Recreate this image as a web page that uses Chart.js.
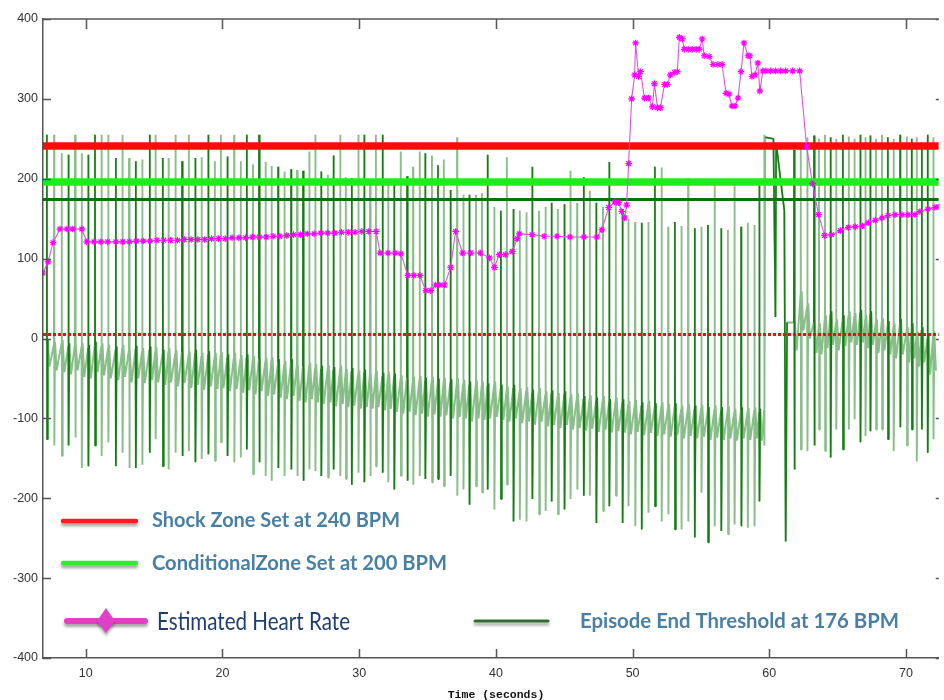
<!DOCTYPE html>
<html>
<head>
<meta charset="utf-8">
<title>Estimated heart rate and zones</title>
<script src="https://cdn.jsdelivr.net/npm/chart.js@4.4.1/dist/chart.umd.min.js"></script>
<style>
  html, body { margin: 0; padding: 0; background: #fff; }
  canvas { display: block; }
</style>
</head>
<body>
<canvas id="ecg" width="944" height="700"></canvas>
<script>
// axes
const xRange = [6.87, 72.4];
const yRange = [-400, 400];
const xTicks = [10, 20, 30, 40, 50, 60, 70];
const yTicks = [-400, -300, -200, -100, 0, 100, 200, 300, 400];

// threshold lines as drawn
const shockLevel = 241;
const conditionalLevel = 196;
const episodeEndLevel = 174;
const zeroLevel = 5;

// estimated heart rate (BPM)
const hrTimes = [
  6.87, 7.24, 7.60, 8.11, 8.62, 9.05, 9.71, 10.07, 10.6, 11.1,
  11.6, 12.2, 12.7, 13.2, 13.7, 14.2, 14.7, 15.2, 15.7, 16.2,
  16.7, 17.2, 17.7, 18.2, 18.7, 19.2, 19.7, 20.2, 20.7, 21.2,
  21.7, 22.2, 22.7, 23.2, 23.7, 24.2, 24.7, 25.2, 25.7, 26.2,
  26.7, 27.2, 27.7, 28.2, 28.7, 29.2, 29.7, 30.2, 30.7, 31.24,
  31.53, 32.1, 32.62, 33.05, 33.56, 34.0, 34.44, 34.87, 35.24, 35.6,
  35.9, 36.25, 36.69, 37.05, 37.56, 38.15, 38.87, 39.53, 39.89, 40.25,
  40.69, 41.2, 41.56, 41.71, 42.65, 43.53, 44.47, 45.42, 46.44, 47.38,
  47.75, 48.25, 48.69, 48.98, 49.2, 49.42, 49.56, 49.71, 49.93, 50.15,
  50.22, 50.44, 50.58, 50.87, 51.16, 51.45, 51.6, 51.82, 52.04, 52.33,
  52.55, 52.76, 53.05, 53.27, 53.42, 53.64, 53.78, 54.07, 54.36, 54.65,
  54.87, 55.09, 55.24, 55.6, 55.89, 56.25, 56.55, 56.84, 57.05, 57.27,
  57.49, 57.71, 57.93, 58.15, 58.44, 58.58, 58.73, 58.95, 59.16, 59.31,
  59.53, 59.75, 60.11, 60.47, 60.84, 61.2, 61.71, 62.22, 62.73, 63.16,
  63.6, 64.04, 64.55, 65.2, 65.78, 66.29, 66.8, 67.24, 67.75, 68.25,
  68.69, 69.2, 69.71, 70.15, 70.65, 71.02, 71.6, 72.11, 72.4
];
const hrValues = [
  82, 96, 120, 137, 137, 137, 137, 121, 121, 121,
  121, 121, 121, 121, 122, 122, 122, 123, 123, 123,
  123, 124, 124, 124, 124, 125, 125, 125, 126, 126,
  126, 127, 127, 127, 128, 128, 129, 130, 130, 131,
  131, 132, 132, 132, 133, 133, 133, 134, 134, 134,
  107, 107, 107, 106, 79, 79, 79, 60, 60, 67,
  67, 67, 89, 134, 107, 107, 107, 101, 89, 105,
  105, 109, 125, 131, 130, 128, 128, 127, 127, 127,
  136, 164, 171, 170, 159, 151, 167, 219, 300, 330,
  370, 328, 334, 301, 301, 290, 319, 289, 289, 318,
  318, 330, 333, 334, 377, 375, 362, 362, 362, 362,
  362, 375, 354, 353, 343, 343, 343, 307, 306, 291,
  291, 301, 334, 370, 354, 354, 328, 330, 345, 310,
  335, 335, 335, 335, 335, 335, 335, 335, 240, 194,
  155, 129, 130, 135, 139, 140, 141, 145, 148, 151,
  154, 155, 155, 155, 155, 159, 162, 164, 165
];

// ECG trace, one entry per beat
const beatTimes = [
  7.14, 7.67, 8.23, 8.72, 9.20, 9.69, 10.17, 10.66, 11.14, 11.63,
  12.18, 12.67, 13.15, 13.64, 14.12, 14.66, 15.09, 15.62, 16.04, 16.55,
  17.03, 17.52, 18.00, 18.46, 18.95, 19.43, 19.87, 20.35, 20.84, 21.32,
  21.76, 22.22, 22.66, 23.14, 23.58, 24.06, 24.52, 25.01, 25.44, 25.88,
  26.34, 26.78, 27.21, 27.70, 28.11, 28.60, 29.01, 29.44, 29.93, 30.36,
  30.78, 31.21, 31.70, 32.11, 32.55, 33.03, 33.49, 33.93, 34.41, 34.82,
  35.31, 35.75, 36.18, 36.67, 37.15, 37.61, 38.05, 38.53, 38.97,
  39.38, 39.87, 40.35, 40.79, 41.27, 41.73, 42.22, 42.65, 43.14, 43.62,
  44.06, 44.52, 45.00, 45.44, 45.93, 46.41, 46.85, 47.33, 47.82, 48.28,
  48.76, 49.25, 49.68, 50.17, 50.65, 51.14, 51.62, 52.11, 52.59, 53.08,
  53.56, 54.05, 54.53, 55.02, 55.50, 55.99, 56.47, 56.96, 57.44, 57.93,
  58.41, 58.90, 59.26, 59.62,
  61.80, 62.29, 62.77, 63.26, 63.62, 64.06, 64.47, 64.88, 65.37, 65.80,
  66.22, 66.65, 67.02, 67.38, 67.79, 68.23, 68.66, 69.08, 69.56, 70.05,
  70.41, 70.77, 71.14, 71.57, 71.99
];
const beatTops = [
  255, 255, 232, 230, 255, 232, 230, 255, 255, 255,
  226, 255, 226, 222, 224, 255, 255, 226, 226, 255,
  222, 255, 226, 227, 255, 222, 255, 228, 255, 222,
  255, 218, 255, 221, 216, 215, 209, 212, 211, 210,
  234, 255, 209, 205, 229, 255, 202, 201, 255, 255,
  199, 255, 255, 195, 193, 234, 203, 215, 234, 232,
  229, 217, 224, 186, 252, 180, 180, 180, 182,
  230, 165, 160, 227, 162, 160, 158, 215, 160, 165,
  170, 162, 168, 210, 170, 202, 185, 170, 165, 221,
  168, 162, 150, 146, 145, 146, 215, 214, 140, 146,
  141, 201, 138, 140, 142, 192, 138, 136, 192, 140,
  145, 142, 192, 255,
  236, 245, 252, 254, 250, 255, 252, 250, 255, 253,
  250, 255, 252, 254, 250, 255, 252, 250, 255, 253,
  250, 252, 245, 255, 252
];
const beatBottoms = [
  -126, -134, -147, -134, -124, -162, -160, -134, -147, -130,
  -160, -143, -162, -162, -158, -143, -126, -160, -164, -143,
  -147, -141, -155, -151, -145, -153, -130, -147, -155, -149,
  -139, -170, -155, -172, -178, -162, -172, -164, -172, -178,
  -164, -166, -172, -174, -164, -172, -176, -183, -168, -180,
  -172, -160, -168, -180, -189, -172, -178, -183, -172, -176,
  -180, -176, -185, -172, -197, -189, -208, -185, -193,
  -189, -214, -201, -183, -229, -227, -229, -201, -220, -216,
  -204, -220, -214, -201, -189, -197, -197, -231, -216, -210,
  -197, -231, -210, -235, -239, -218, -210, -229, -220, -239,
  -239, -229, -249, -193, -255, -235, -241, -245, -233, -235,
  -237, -235, -204, -134,
  -164, -139, -141, -134, -114, -141, -149, -114, -139, -114,
  -101, -130, -122, -116, -114, -114, -126, -141, -111, -134,
  -114, -154, -114, -143, -126
];
const beatBases = [
  -5, -8, -6, -10, -8, -10, -12, -8, -10, -12,
  -14, -12, -15, -13, -16, -14, -15, -18, -16, -18,
  -17, -20, -18, -22, -20, -22, -21, -24, -22, -25,
  -24, -26, -25, -28, -27, -30, -32, -30, -33, -35,
  -34, -36, -38, -37, -40, -38, -42, -41, -44, -43,
  -45, -44, -47, -46, -48, -50, -49, -52, -51, -53,
  -52, -54, -53, -55, -54, -56, -58, -57, -58,
  -60, -58, -62, -64, -62, -66, -65, -68, -66, -70,
  -69, -72, -70, -74, -73, -76, -75, -78, -76, -80,
  -78, -80, -82, -81, -84, -82, -85, -84, -86, -85,
  -88, -86, -88, -87, -90, -88, -90, -89, -92, -90,
  -91, -90, -92, -90,
  20, 55, 40, 20, 15, 25, 30, 20, 25, 30,
  28, 32, 25, 30, 20, 22, 18, 15, 20, 10,
  15, 5, 10, 0, 5
];
const beatTroughs = [
  -35, -40, -42, -45, -40, -48, -50, -42, -46, -50,
  -52, -48, -55, -50, -56, -52, -55, -58, -55, -60,
  -56, -62, -58, -64, -60, -63, -62, -66, -63, -68,
  -65, -70, -66, -72, -70, -74, -76, -72, -78, -80,
  -76, -80, -82, -80, -85, -82, -86, -84, -88, -86,
  -88, -86, -90, -88, -92, -94, -92, -96, -94, -98,
  -95, -98, -96, -100, -98, -100, -104, -100, -102,
  -100, -98, -102, -104, -100, -106, -104, -108, -104, -110,
  -108, -112, -108, -114, -112, -115, -113, -117, -114, -118,
  -116, -118, -120, -117, -121, -118, -122, -120, -123, -121,
  -125, -122, -125, -123, -127, -124, -127, -125, -128, -125,
  -127, -125, -128, -120,
  -15, 10, 0, -18, -20, -12, -8, -15, -10, -5,
  -8, -5, -12, -8, -18, -15, -20, -25, -20, -30,
  -25, -35, -30, -45, -40
];
// beats whose stroke shows in the darker green
const darkBeats = [
  0, 3, 6, 7, 10, 13, 15, 17, 20, 22, 24, 27, 30, 32, 35, 37, 39, 42, 44, 47,
  49, 52, 54, 56, 59, 61, 63, 66, 69, 71, 73, 76, 79, 81, 84, 86, 88, 90, 93, 95,
  98, 101, 103, 105, 108, 111, 113, 116, 119, 121, 124, 126, 129, 131, 133, 135, 136
];
// saturated stretch between the two runs of beats
const gapTimes = [59.70, 60.30, 60.45, 60.50, 61.10, 61.20, 61.30];
const gapValues = [252, 250, 27, 245, 160, -254, 20];

// build the trace points from the beat tables
function beatPoints(i) {
  const t = beatTimes[i];
  const b = beatBases[i];
  return [
    { x: t, y: b },
    { x: t + 0.012, y: beatTops[i] },
    { x: t + 0.03, y: beatBottoms[i] },
    { x: t + 0.08, y: b + 4 },
    { x: t + 0.2, y: beatTroughs[i] }
  ];
}

const darkSet = new Set(darkBeats);
const ecgLight = [];
const ecgDark = [];
for (let i = 0; i < beatTimes.length; i++) {
  const pts = beatPoints(i);
  const next = beatTimes[i + 1];
  const gapAfter = next !== undefined && next - beatTimes[i] > 1;
  if (gapAfter) {
    ecgLight.push(...pts.slice(0, 3));
  } else {
    ecgLight.push(...pts);
  }
  if (darkSet.has(i)) {
    ecgDark.push(...pts.slice(0, 4), { x: pts[3].x + 0.01, y: null });
  }
  if (gapAfter) {
    gapTimes.forEach((t, k) => {
      ecgLight.push({ x: t, y: gapValues[k] });
      ecgDark.push({ x: t, y: gapValues[k] });
    });
    ecgDark.push({ x: gapTimes[gapTimes.length - 1] + 0.01, y: null });
  }
}

const hrPoints = hrTimes.map((t, i) => ({ x: t, y: hrValues[i] }));
const flat = (level) => [{ x: xRange[0], y: level }, { x: xRange[1], y: level }];

// inward tick marks and the top frame line
const framePlugin = {
  id: 'frame',
  afterDraw(chart) {
    const { ctx, chartArea: a, scales } = chart;
    ctx.save();
    ctx.strokeStyle = '#555';
    ctx.lineWidth = 1.5;
    ctx.beginPath();
    ctx.moveTo(a.left, a.top);
    ctx.lineTo(a.right, a.top);
    xTicks.forEach(v => {
      const px = Math.round(scales.x.getPixelForValue(v)) + 0.5;
      ctx.moveTo(px, a.top);
      ctx.lineTo(px, a.top + 10);
      ctx.moveTo(px, a.bottom);
      ctx.lineTo(px, a.bottom - 9);
    });
    yTicks.forEach(v => {
      const py = Math.round(scales.y.getPixelForValue(v)) + 0.5;
      ctx.moveTo(a.left, py);
      ctx.lineTo(a.left + 8, py);
      ctx.moveTo(a.right, py);
      ctx.lineTo(a.right - 3, py);
    });
    ctx.stroke();

    // axis title
    ctx.fillStyle = '#111';
    ctx.font = 'bold 11.5px "Liberation Mono", "DejaVu Sans Mono", monospace';
    ctx.textAlign = 'center';
    ctx.textBaseline = 'alphabetic';
    ctx.fillText('Time (seconds)', 496, 698);
    ctx.restore();
  }
};

// legend drawn inside the plot like the original annotation
const legendPlugin = {
  id: 'zoneLegend',
  afterDraw(chart) {
    const ctx = chart.ctx;
    ctx.save();
    ctx.lineCap = 'round';
    ctx.shadowColor = 'rgba(0,0,0,0.35)';
    ctx.shadowOffsetY = 3;
    ctx.shadowBlur = 3;
    const seg = (x1, x2, y, w, c) => {
      ctx.strokeStyle = c;
      ctx.lineWidth = w;
      ctx.beginPath();
      ctx.moveTo(x1, y);
      ctx.lineTo(x2, y);
      ctx.stroke();
    };
    seg(63, 136, 521, 4.5, '#ff1c1c');
    seg(63, 136, 563, 4.5, '#2cf02c');
    seg(67, 145, 621, 6, '#e23fc8');
    seg(475, 548, 621, 3, '#2e6e2e');
    ctx.fillStyle = '#e23fc8';
    ctx.beginPath();
    ctx.moveTo(106, 608);
    ctx.lineTo(115, 621);
    ctx.lineTo(106, 633);
    ctx.lineTo(97, 621);
    ctx.closePath();
    ctx.fill();
    ctx.shadowColor = 'transparent';

    const label = (text, x, base, width, cap, weight, color) => {
      const size = cap / 0.72;
      ctx.font = weight + ' ' + size + 'px Lato, "Open Sans", sans-serif';
      const w = ctx.measureText(text).width;
      ctx.save();
      ctx.translate(x, base);
      ctx.scale(width / w, 1);
      ctx.fillStyle = color;
      ctx.textAlign = 'left';
      ctx.textBaseline = 'alphabetic';
      ctx.fillText(text, 0, 0);
      ctx.restore();
    };
    label('Shock Zone Set at 240 BPM', 152, 527, 248, 15, 'bold', '#4a7fa4');
    label('ConditionalZone Set at 200 BPM', 152, 570, 295, 15, 'bold', '#4a7fa4');
    label('Estimated Heart Rate', 157, 630, 193, 18, 'normal', '#1f3d6e');
    label('Episode End Threshold at 176 BPM', 580, 628, 319, 15, 'bold', '#4a7fa4');
    ctx.restore();
  }
};

const tickFont = { family: '"Liberation Sans", Arial, sans-serif', size: 12.5 };

new Chart(document.getElementById('ecg'), {
  type: 'scatter',
  data: {
    datasets: [
      {
        label: 'Estimated Heart Rate',
        data: hrPoints,
        showLine: true,
        borderColor: '#dd55dd',
        borderWidth: 1.1,
        pointStyle: 'star',
        pointRadius: 3.3,
        pointBorderColor: '#ff00ff',
        pointBackgroundColor: '#ff00ff',
        pointBorderWidth: 1.2
      },
      {
        label: 'Shock Zone',
        data: flat(shockLevel),
        showLine: true,
        borderColor: '#ff0a0a',
        borderWidth: 7.5,
        pointRadius: 0
      },
      {
        label: 'Conditional Zone',
        data: flat(conditionalLevel),
        showLine: true,
        borderColor: '#18f018',
        borderWidth: 7.5,
        pointRadius: 0
      },
      {
        label: 'Episode End Threshold',
        data: flat(episodeEndLevel),
        showLine: true,
        borderColor: '#0b720b',
        borderWidth: 3.2,
        pointRadius: 0
      },
      {
        label: 'Zero',
        data: flat(zeroLevel),
        showLine: true,
        borderColor: '#e81010',
        borderWidth: 3,
        borderDash: [3, 2],
        pointRadius: 0
      },
      {
        label: 'ECG dark',
        data: ecgDark,
        showLine: true,
        borderColor: 'rgba(0,115,0,0.85)',
        borderWidth: 1.6,
        borderJoinStyle: 'bevel',
        pointRadius: 0,
        spanGaps: false
      },
      {
        label: 'ECG',
        data: ecgLight,
        showLine: true,
        borderColor: 'rgba(40,135,40,0.55)',
        borderWidth: 1.9,
        borderJoinStyle: 'bevel',
        pointRadius: 0
      }
    ]
  },
  options: {
    responsive: false,
    animation: false,
    events: [],
    layout: { padding: { top: 19, right: 0, left: 0, bottom: 0 } },
    plugins: {
      legend: { display: false },
      tooltip: { enabled: false }
    },
    scales: {
      x: {
        type: 'linear',
        min: xRange[0],
        max: xRange[1],
        afterBuildTicks: (s) => { s.ticks = xTicks.map(v => ({ value: v })); },
        afterFit: (s) => { s.height = 42; },
        grid: { display: false, drawTicks: false },
        border: { color: '#555', width: 1.5 },
        ticks: { padding: 8, color: '#333', font: tickFont, maxRotation: 0 }
      },
      y: {
        min: yRange[0],
        max: yRange[1],
        afterBuildTicks: (s) => { s.ticks = yTicks.map(v => ({ value: v })); },
        afterFit: (s) => { s.width = 43; },
        grid: { display: false, drawTicks: false },
        border: { color: '#555', width: 1.5 },
        ticks: { padding: 5, color: '#333', font: tickFont }
      }
    }
  },
  plugins: [framePlugin, legendPlugin]
});
</script>
</body>
</html>
